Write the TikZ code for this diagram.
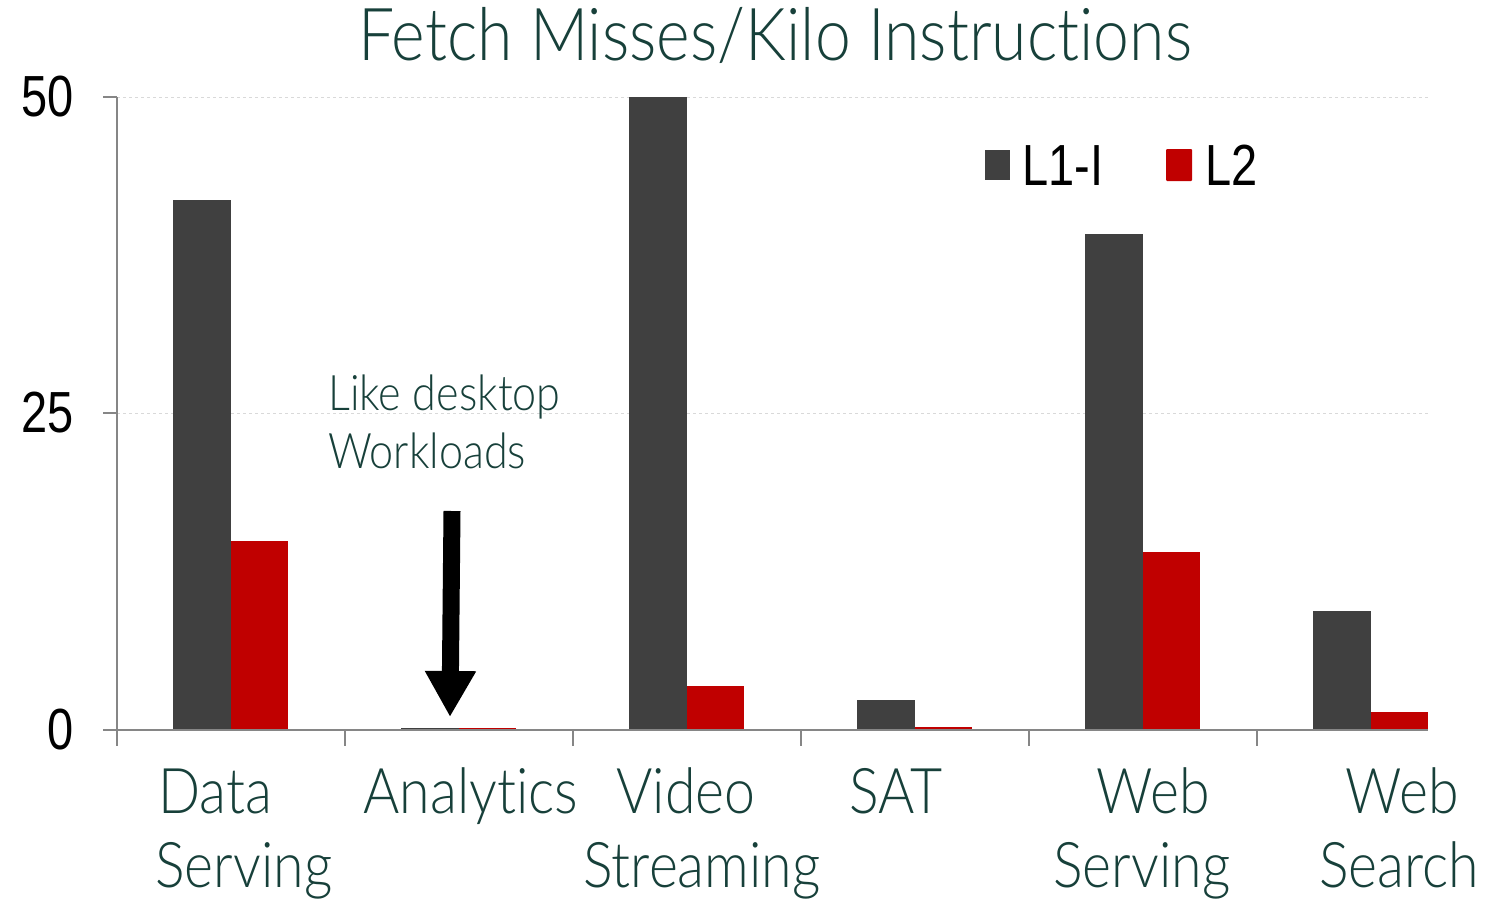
\documentclass[tikz,border=0pt]{standalone}
\usepackage{fontspec}
\setmainfont{Lato}[UprightFont={* Light}, FakeStretch=0.88, Ligatures=NoCommon]
\newfontfamily\numfont{Liberation Sans}[FakeStretch=0.81]
\usetikzlibrary{arrows.meta}
\definecolor{l1col}{HTML}{404040}
\definecolor{l2col}{HTML}{C00000}
\definecolor{txtcol}{HTML}{17403A}
\definecolor{axiscol}{HTML}{868686}
\definecolor{gridcol}{HTML}{D9D9D9}
\tikzset{
  gridline/.style={gridcol, line width=1pt, dash pattern=on 3pt off 3pt},
  axisline/.style={axiscol, line width=2pt},
  ticklbl/.style={anchor=east, inner sep=0pt, font=\numfont\fontsize{58}{58}\selectfont},
  leglbl/.style={anchor=base west, inner sep=0pt, font=\numfont\fontsize{58}{58}\selectfont},
  catlbl/.style={anchor=base, inner sep=0pt, text=txtcol, font=\fontsize{63}{63}\selectfont},
  notelbl/.style={anchor=base west, inner sep=0pt, text=txtcol, font=\fontsize{49}{49}\selectfont},
  titlelbl/.style={anchor=base, inner sep=0pt, text=txtcol, font=\fontsize{73}{73}\selectfont},
}
\begin{document}
\begin{tikzpicture}[x=1pt,y=-1pt]
\useasboundingbox (0,0) rectangle (1485,905);

% title
\node[titlelbl] (title) at (775,60) {Fetch Misses/Kilo Instructions};

% grid lines and axes
\draw[gridline] (117,97) -- (1428,97);
\draw[gridline] (117,413) -- (1428,413);
\draw[axisline] (117,97) -- (117,730);
\foreach \yy in {97,413,730} \draw[axisline] (103,\yy) -- (117,\yy);
\foreach \i in {0,...,5} \draw[axisline] ({117+228*\i},730) -- ({117+228*\i},746);

% value labels
\node[ticklbl] (y50) at (74,97) {50};
\node[ticklbl] (y25) at (74,413) {25};
\node[ticklbl] (y0) at (74,730) {0};

% bars: category index / L1-I value / L2 value
\foreach \i/\va/\vb in {0/41.9/14.9, 1/0.12/0.15, 2/50/3.5, 3/2.4/0.25, 4/39.2/14.1, 5/9.4/1.4}{
  \pgfmathsetmacro\sx{117+228*\i}
  \pgfmathsetmacro\ta{730-12.66*\va}
  \pgfmathsetmacro\tb{730-12.66*\vb}
  \fill[l1col] (\sx+56,730) rectangle (\sx+113.5,\ta);
  \fill[l2col] (\sx+113.5,730) rectangle (\sx+171,\tb);
}
\draw[axisline] (117,730) -- (1428,730);

% legend
\fill[l1col] (985,150) rectangle (1010,180);
\node[leglbl] (leg1) at (1022,185) {L1-I};
\fill[l2col, rounded corners=1pt] (1166,149) rectangle (1192,181);
\node[leglbl] (leg2) at (1205,185) {L2};

% category labels
\node[catlbl] (c1a) at (215,813) {Data};
\node[catlbl] (c1b) at (244,887) {Serving};
\node[catlbl] (c2a) at (471,813) {Analytics};
\node[catlbl] (c3a) at (686,813) {Video};
\node[catlbl] (c3b) at (702,887) {Streaming};
\node[catlbl] (c4a) at (896,813) {SAT};
\node[catlbl] (c5a) at (1153,813) {Web};
\node[catlbl] (c5b) at (1142,887) {Serving};
\node[catlbl] (c6a) at (1402,813) {Web};
\node[catlbl] (c6b) at (1399,887) {Search};

% annotation
\node[notelbl] (note1) at (328,410) {Like desktop};
\node[notelbl] (note2) at (328,468) {Workloads};
\coordinate (arrtop) at (452,511);
\coordinate (arrtip) at (450,717);
\draw[-{Triangle[width=48pt,length=46pt]}, line width=17pt] (arrtop) -- (arrtip);
\end{tikzpicture}
\end{document}
